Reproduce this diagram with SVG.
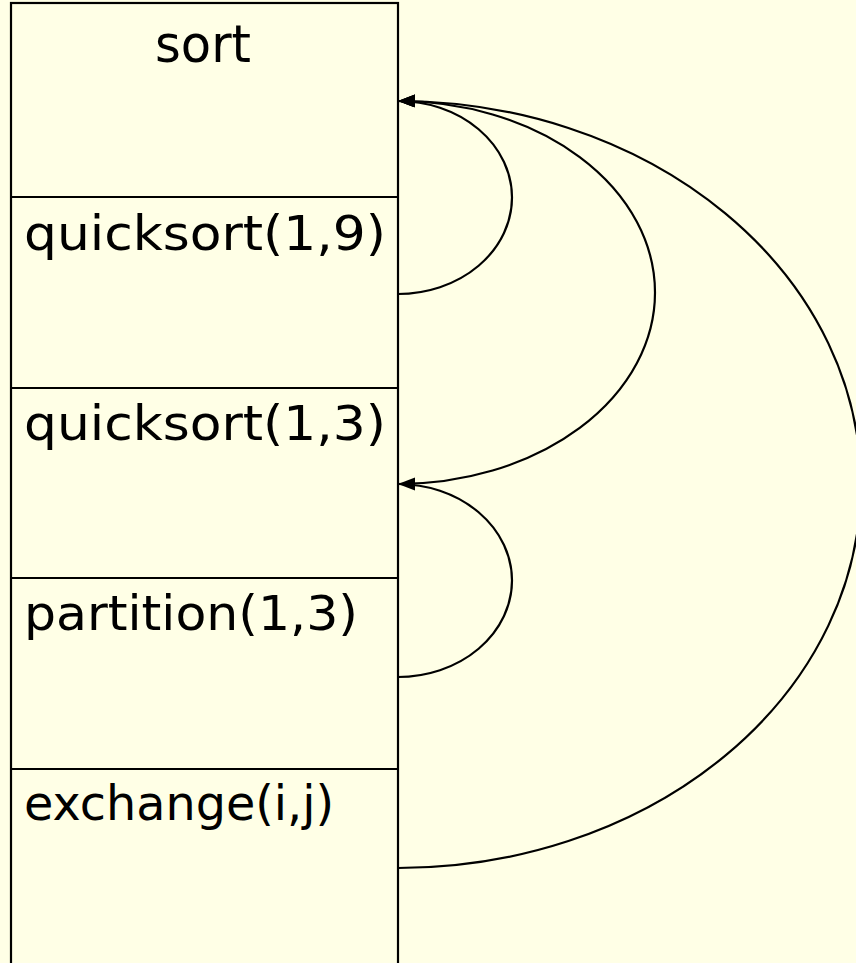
<svg xmlns="http://www.w3.org/2000/svg" width="856" height="963" viewBox="0 0 856 963">
<style>
.frame{fill:none;stroke:#000;stroke-width:2.2}
.lbl{font-family:"DejaVu Sans",sans-serif;font-size:48px;fill:#000}
.ttl{font-family:"DejaVu Sans",sans-serif;font-size:52px;fill:#000}
.arc{fill:none;stroke:#000;stroke-width:2.2}
</style>
<defs>
<marker id="ah" markerUnits="userSpaceOnUse" markerWidth="20" markerHeight="16" refX="17" refY="6.5" orient="auto">
<path d="M0,0 L17,6.5 L0,13 z" fill="#000"/>
</marker>
</defs>
<rect x="0" y="0" width="856" height="963" fill="#FFFFE6"/>
<g id="stack">
<rect class="frame" x="11" y="3" width="387" height="975"/>
</g>
<g id="sort"><text class="ttl" x="203" y="62" text-anchor="middle" textLength="96" lengthAdjust="spacingAndGlyphs">sort</text></g>
<g id="quicksort19"><line class="frame" x1="11" y1="197" x2="398" y2="197"/><text class="lbl" x="24" y="250" textLength="362" lengthAdjust="spacingAndGlyphs">quicksort(1,9)</text></g>
<g id="quicksort13"><line class="frame" x1="11" y1="388" x2="398" y2="388"/><text class="lbl" x="24" y="440" textLength="362" lengthAdjust="spacingAndGlyphs">quicksort(1,3)</text></g>
<g id="partition13"><line class="frame" x1="11" y1="578" x2="398" y2="578"/><text class="lbl" x="24" y="630" textLength="334" lengthAdjust="spacingAndGlyphs">partition(1,3)</text></g>
<g id="exchange"><line class="frame" x1="11" y1="769" x2="398" y2="769"/><text class="lbl" x="24" y="820" textLength="310" lengthAdjust="spacingAndGlyphs">exchange(i,j)</text></g>
<g id="connectors">
<path class="arc" d="M398,294 A114,96.5 0 0 0 398,101" marker-end="url(#ah)"/>
<path class="arc" d="M398,484 A257,191.5 0 0 0 398,101" marker-end="url(#ah)"/>
<path class="arc" d="M398,868 A463,383.5 0 0 0 398,101" marker-end="url(#ah)"/>
<path class="arc" d="M398,677 A114,96.5 0 0 0 398,484" marker-end="url(#ah)"/>
</g>
</svg>
